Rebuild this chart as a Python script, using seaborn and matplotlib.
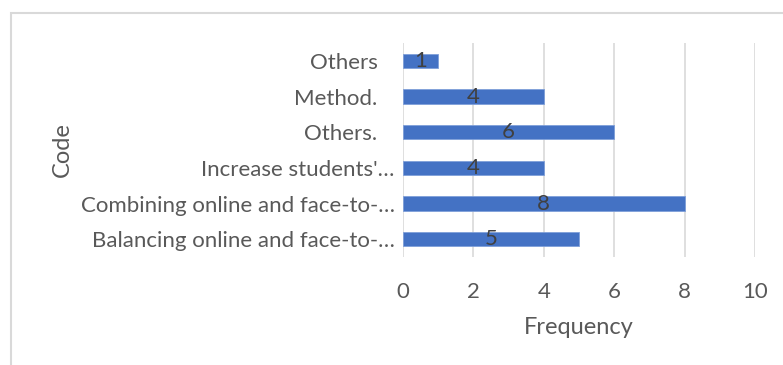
import matplotlib
matplotlib.use("Agg")
import matplotlib.pyplot as plt
from matplotlib.patches import Rectangle
import seaborn as sns
import pandas as pd

codes = [
    "Others   ",
    "Method.   ",
    "Others.   ",
    "Increase students'\u2026",
    "Combining online and face-to-\u2026",
    "Balancing online and face-to-\u2026",
]
frequency = [1, 4, 6, 4, 8, 5]
x_ticks = [0, 2, 4, 6, 8, 10]

df = pd.DataFrame({"Code": codes, "Frequency": frequency})

sns.set_theme(style="white")
plt.rcParams["font.family"] = ["Lato", "DejaVu Sans"]

fig = plt.figure(figsize=(7.83, 3.65), dpi=100)
ax = fig.add_axes([403 / 783, 1 - 257 / 365, 352 / 783, 214 / 365])

sns.barplot(data=df, x="Frequency", y="Code", order=codes, color="#4472C4",
            width=0.41, saturation=1, edgecolor="#7f9fd9", linewidth=0.6,
            ax=ax, zorder=3)

ax.set_xlim(0, 10)
ax.set_xticks(x_ticks)
ax.grid(axis="x", color="#d9d9d9", linewidth=1.2, zorder=0)
ax.grid(axis="y", visible=False)
for s in ax.spines.values():
    s.set_visible(False)
ax.tick_params(axis="both", length=0, labelsize=16, colors="#595959")
ax.tick_params(axis="x", pad=18)
ax.tick_params(axis="y", pad=6)
ax.set_xlabel("Frequency", fontsize=17, color="#595959", va="center")
ax.set_ylabel("Code", fontsize=17, color="#595959", va="center")
ax.xaxis.set_label_coords(0.5, (257 - 327) / 214)
ax.yaxis.set_label_coords((62 - 403) / 352, 0.5)

for c in ax.containers:
    ax.bar_label(c, label_type="center", fontsize=16, color="#404040")

# chart area frame
fig.add_artist(Rectangle((11 / 783, -0.05), 1.2, 1.05 - 13 / 365,
                         transform=fig.transFigure, fill=False,
                         edgecolor="#d9d9d9", linewidth=1.5))

fig.savefig("out.png", dpi=100)
